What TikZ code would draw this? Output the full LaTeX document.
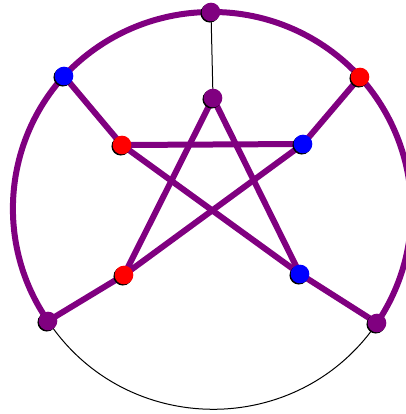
\documentclass[tikz,border=0pt]{standalone}
\usepackage{tikz}

\definecolor{vpurple}{RGB}{128,0,128}
\definecolor{vred}{RGB}{255,0,0}
\definecolor{vblue}{RGB}{0,0,255}

\tikzset{every picture/.style={line width=0.75pt}}
\tikzset{
  vtx/.style={circle,inner sep=0pt,minimum size=14pt,
    preaction={fill=black,transform canvas={xshift=-0.9pt,yshift=-0.9pt}}},
  pv/.style={vtx,fill=vpurple},
  rv/.style={vtx,fill=vred},
  bv/.style={vtx,fill=vblue},
  thin edge/.style={draw=black,line width=0.75pt},
  thick edge/.style={draw=vpurple,line width=4.5pt},
}

\begin{document}
\begin{tikzpicture}[x=0.75pt,y=0.75pt,yscale=-1,xscale=1]
\useasboundingbox (0,0) rectangle (406,414);

%Outer vertices
\coordinate (o1) at (211,12);
\coordinate (o2) at (64,76);
\coordinate (o3) at (48,321);
\coordinate (o4) at (377,323);
\coordinate (o5) at (360,77);
%Inner vertices
\coordinate (i1) at (213,98);
\coordinate (i2) at (122,145);
\coordinate (i3) at (124,275);
\coordinate (i4) at (300,274);
\coordinate (i5) at (303,144);

%Thin edges
\draw [thin edge] (o1) -- (i1);
\draw [thin edge] (o3) to [bend left=56,looseness=1.09] (o4);

%Outer cycle
\draw [thick edge] (o1) to [bend left=23.5,looseness=0.89] (o2);
\draw [thick edge] (o2) to [bend left=38.5,looseness=0.955] (o3);
\draw [thick edge] (o4) to [bend left=38,looseness=0.955] (o5);
\draw [thick edge] (o5) to [bend left=24,looseness=0.89] (o1);
%Spokes
\draw [thick edge] (o2) -- (i2);
\draw [thick edge] (o3) -- (i3);
\draw [thick edge] (o4) -- (i4);
\draw [thick edge] (o5) -- (i5);
%Star
\draw [thick edge] (i1) -- (i3);
\draw [thick edge] (i1) -- (i4);
\draw [thick edge] (i2) -- (i5);
\draw [thick edge] (i2) -- (i4);
\draw [thick edge] (i5) -- (i3);

%Vertices
\node [pv] (v1) at (o1) {};
\node [bv] (v2) at (o2) {};
\node [pv] (v3) at (o3) {};
\node [pv] (v4) at (o4) {};
\node [rv] (v5) at (o5) {};
\node [pv] (w1) at (i1) {};
\node [rv] (w2) at (i2) {};
\node [rv] (w3) at (i3) {};
\node [bv] (w4) at (i4) {};
\node [bv] (w5) at (i5) {};

\end{tikzpicture}
\end{document}
